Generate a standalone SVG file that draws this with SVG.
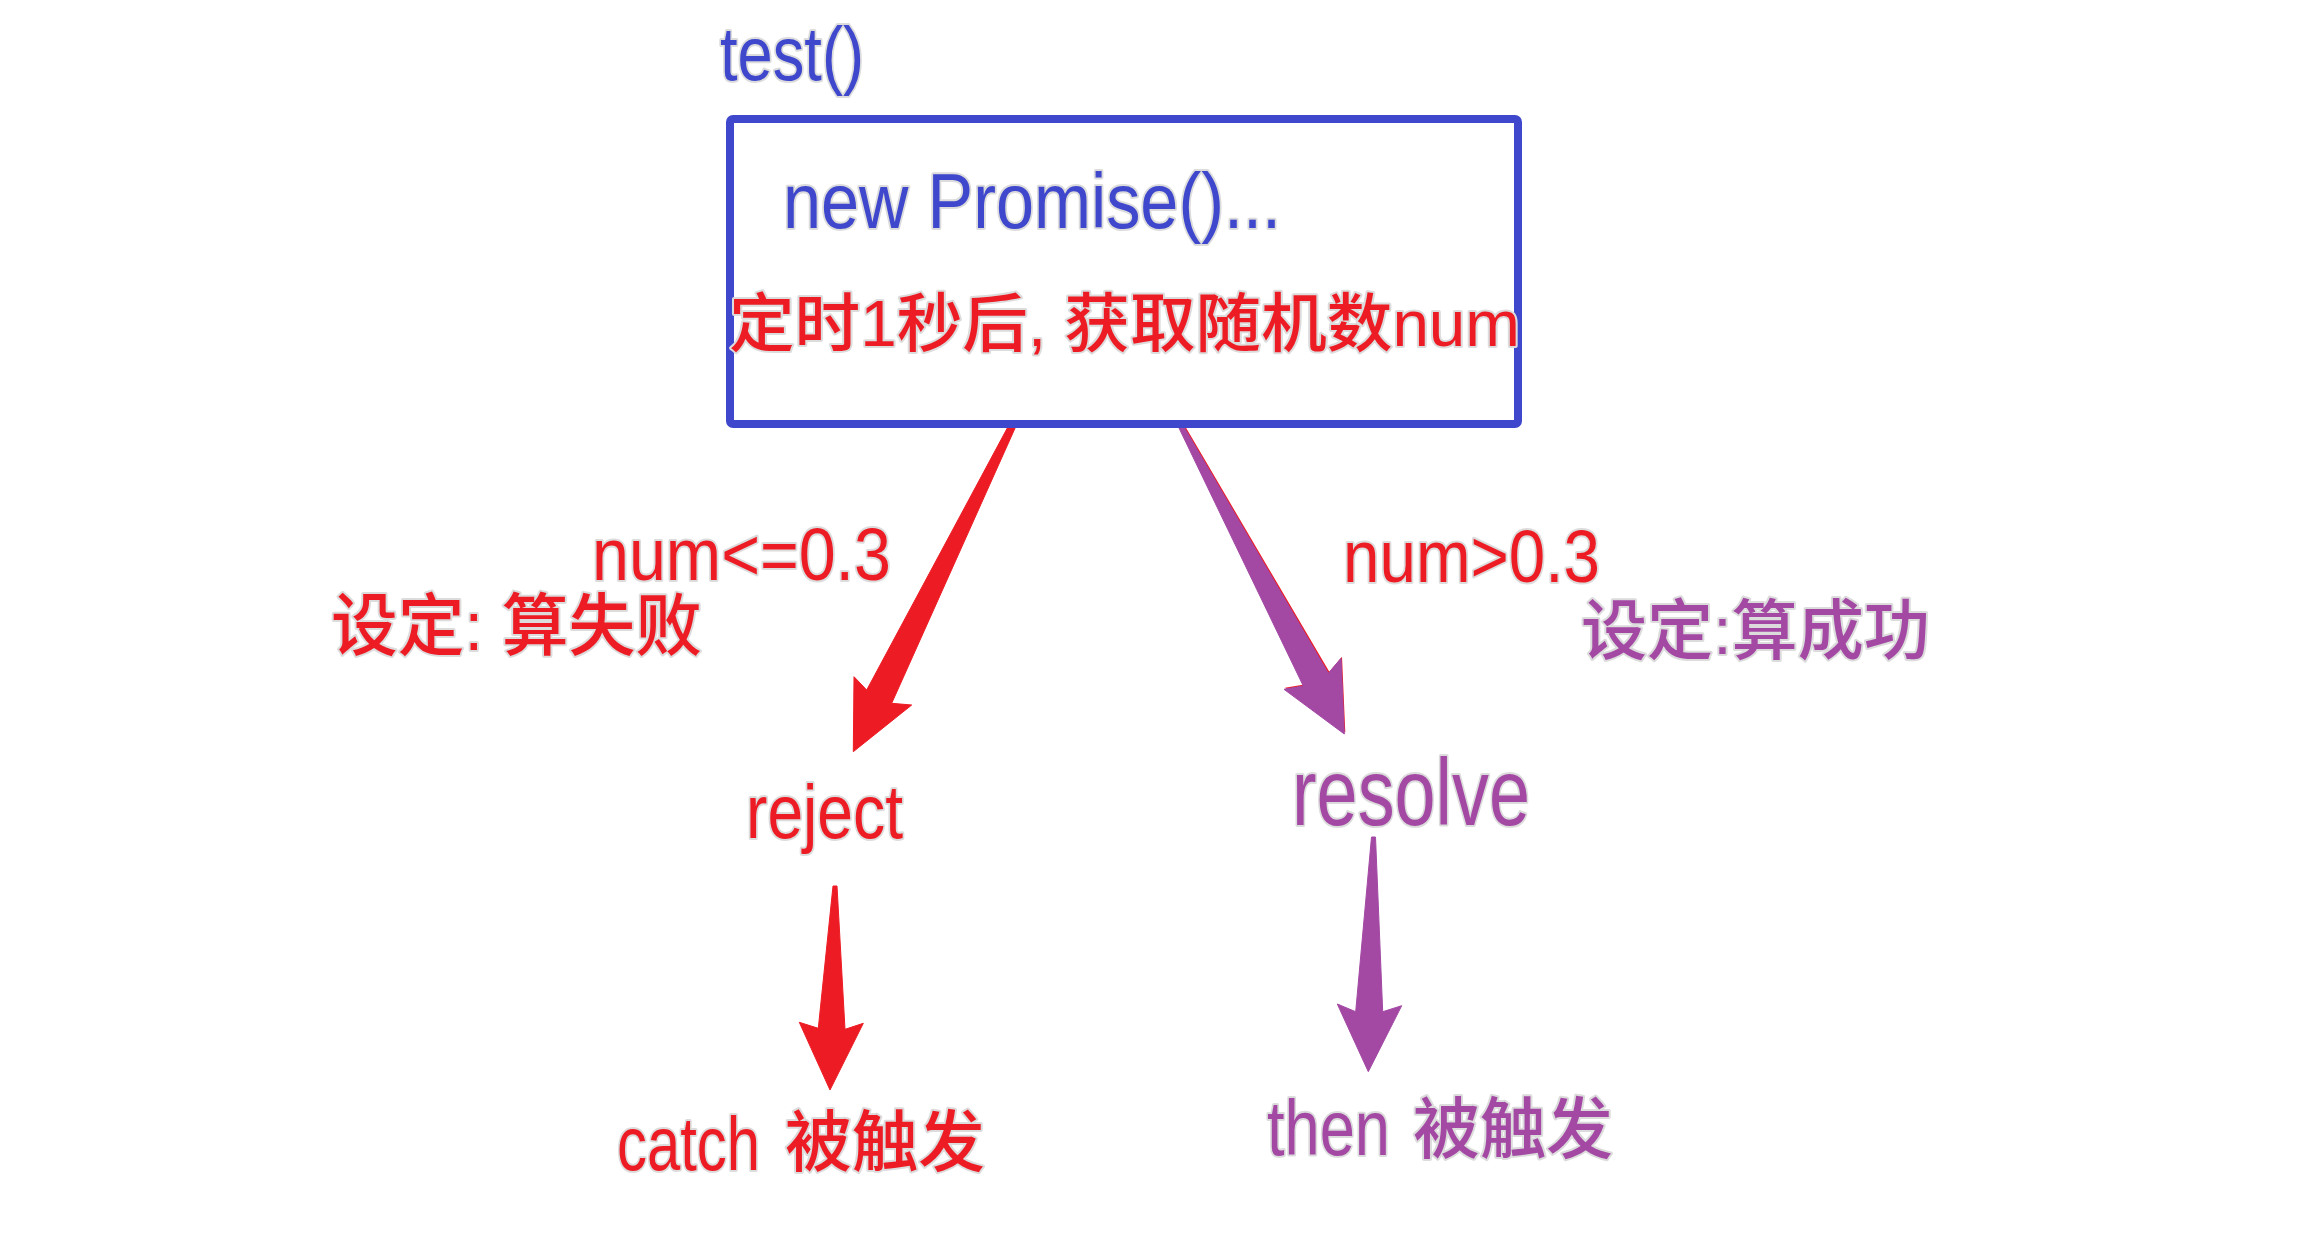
<svg xmlns="http://www.w3.org/2000/svg" width="2318" height="1254" viewBox="0 0 2318 1254">
<style>
.t{font-family:"Liberation Sans","Noto Sans CJK SC",sans-serif;stroke:#dcdcdc;stroke-width:4;paint-order:stroke;stroke-linejoin:round}
.c{font-weight:500}
.b{fill:#3F48CC}
.r{fill:#ED1C24}
.p{fill:#A349A4}
</style>
<rect width="2318" height="1254" fill="#fff"/>
<g id="connectors">
<polygon points="1010,423 1016,426 891.7,703.3 911.7,705 853.3,751.7 854,676.7 866.7,690" fill="#ED1C24" stroke="#ED1C24" stroke-width="1" stroke-linejoin="round"/>
<polygon points="1180,427 1185,426 1329.3,671.8 1342,656.8 1345.3,732.5 1285,687.8 1304.3,684.5" fill="#ED1C24"/>
<polygon points="1179,428 1184,427 1328.3,673.3 1341,658.3 1344.3,734 1284,689.3 1303.3,686" fill="#A349A4" stroke="#A349A4" stroke-width="1" stroke-linejoin="round"/>
<polygon points="833,886 837,886 845,1029.3 863.3,1023.3 830,1090 799.3,1022.3 818.3,1028.3" fill="#ED1C24" stroke="#ED1C24" stroke-width="1" stroke-linejoin="round"/>
<polygon points="1371.5,837 1375.5,837 1382.7,1011.7 1401.7,1005.7 1368.3,1071.7 1337.3,1004 1355.7,1011.7" fill="#A349A4" stroke="#A349A4" stroke-width="1" stroke-linejoin="round"/>
</g>
<g id="test-label">
<text class="t b" x="720" y="80" font-size="76" textLength="144" lengthAdjust="spacingAndGlyphs">test()</text>
</g>
<g id="promise-box">
<rect x="730" y="119" width="788" height="305" rx="3" fill="none" stroke="#3F48CC" stroke-width="8"/>
<text class="t b" x="783" y="228" font-size="77" textLength="498" lengthAdjust="spacingAndGlyphs">new Promise()...</text>
<text class="t r c" x="729" y="346" font-size="64" textLength="791" lengthAdjust="spacingAndGlyphs">定时1秒后, 获取随机数num</text>
</g>
<g id="fail-label">
<text class="t r" x="592" y="580" font-size="74" textLength="299" lengthAdjust="spacingAndGlyphs">num&lt;=0.3</text>
<text class="t r c" x="331" y="650" font-size="68" textLength="371" lengthAdjust="spacingAndGlyphs">设定: 算失败</text>
</g>
<g id="success-label">
<text class="t r" x="1343" y="582" font-size="74" textLength="257" lengthAdjust="spacingAndGlyphs">num&gt;0.3</text>
<text class="t p c" x="1581" y="654" font-size="66" textLength="349" lengthAdjust="spacingAndGlyphs">设定:算成功</text>
</g>
<g id="reject">
<text class="t r" x="746" y="838" font-size="76" textLength="157" lengthAdjust="spacingAndGlyphs">reject</text>
</g>
<g id="resolve">
<text class="t p" x="1292" y="825" font-size="94" textLength="238" lengthAdjust="spacingAndGlyphs">resolve</text>
</g>
<g id="catch">
<text class="t r" x="617" y="1170" font-size="76" textLength="143" lengthAdjust="spacingAndGlyphs">catch</text>
<text class="t r c" x="785" y="1166" font-size="67" textLength="200" lengthAdjust="spacingAndGlyphs">被触发</text>
</g>
<g id="then">
<text class="t p" x="1267" y="1155" font-size="78" textLength="123" lengthAdjust="spacingAndGlyphs">then</text>
<text class="t p c" x="1413" y="1153" font-size="67" textLength="200" lengthAdjust="spacingAndGlyphs">被触发</text>
</g>
</svg>
